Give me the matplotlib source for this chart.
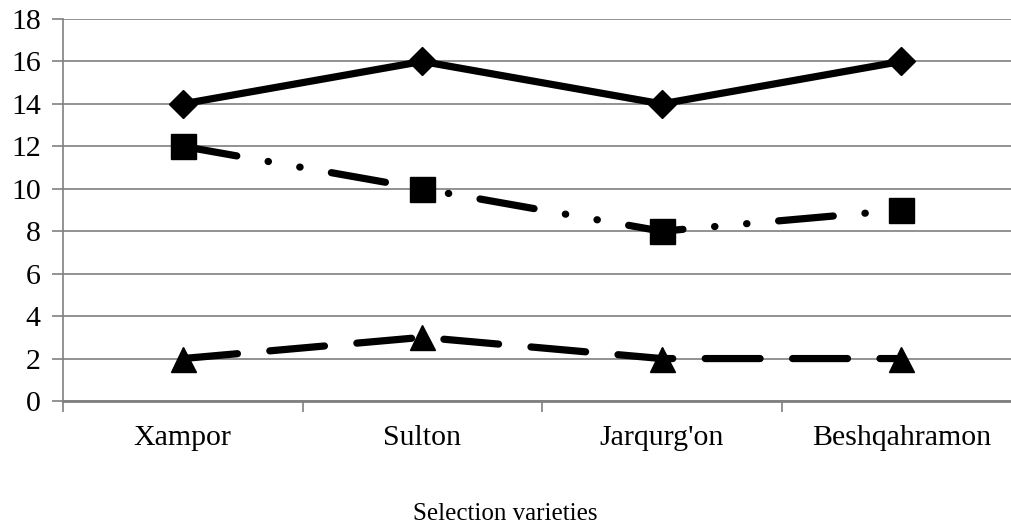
import matplotlib
matplotlib.use("Agg")
import matplotlib.pyplot as plt

varieties = ["Xampor", "Sulton", "Jarqurg'on", "Beshqahramon"]
series_a = [14, 16, 14, 16]
series_b = [12, 10, 8, 9]
series_c = [2, 3, 2, 2]

plt.rcParams['font.family'] = ['Liberation Serif', 'DejaVu Serif']

fig = plt.figure(figsize=(10.11, 5.28), dpi=100)
# plot area runs past the right edge, as in the source image
ax = fig.add_axes([63 / 1011, 127 / 528, 958 / 1011, 382 / 528])

x = list(range(len(varieties)))
lw = 5.2
ax.plot(x, series_a, color='k', lw=lw, marker='D', ms=14,
        solid_capstyle='round', zorder=3)
ax.plot(x, series_b, color='k', lw=lw, marker='s', ms=18,
        linestyle=(0, (7.6, 4.4, 0.05, 4.4, 0.05, 4.4)),
        dash_capstyle='round', zorder=3)
ax.plot(x, series_c, color='k', lw=lw, marker='^', ms=18,
        linestyle=(0, (7.6, 4.5)), dash_capstyle='round', zorder=3)

ax.set_xlim(-0.5, len(varieties) - 0.5)
ax.set_ylim(0, 18)
ax.set_yticks(range(0, 19, 2))
ax.set_xticks(x)
ax.set_xticklabels(varieties)
ax.set_xticks([i - 0.5 for i in range(len(varieties) + 1)], minor=True)
ax.tick_params(axis='x', which='major', length=0, pad=17, labelsize=21.5)
ax.tick_params(axis='x', which='minor', length=8, color='#808080', width=1.2)
ax.tick_params(axis='y', length=8, color='#808080', width=1.2, labelsize=21.5, pad=8)

ax.grid(axis='y', color='#7f7f7f', lw=1.2)
ax.set_axisbelow(True)
for s in ['top', 'right']:
    ax.spines[s].set_visible(False)
ax.spines['left'].set_color('#808080')
ax.spines['left'].set_linewidth(1.2)
ax.spines['bottom'].set_color('#808080')
ax.spines['bottom'].set_linewidth(2)

fig.text(505 / 1011, 1 - 514 / 528, "Selection varieties", ha='center',
         va='center', fontsize=18)

fig.savefig("out.png", dpi=100)
